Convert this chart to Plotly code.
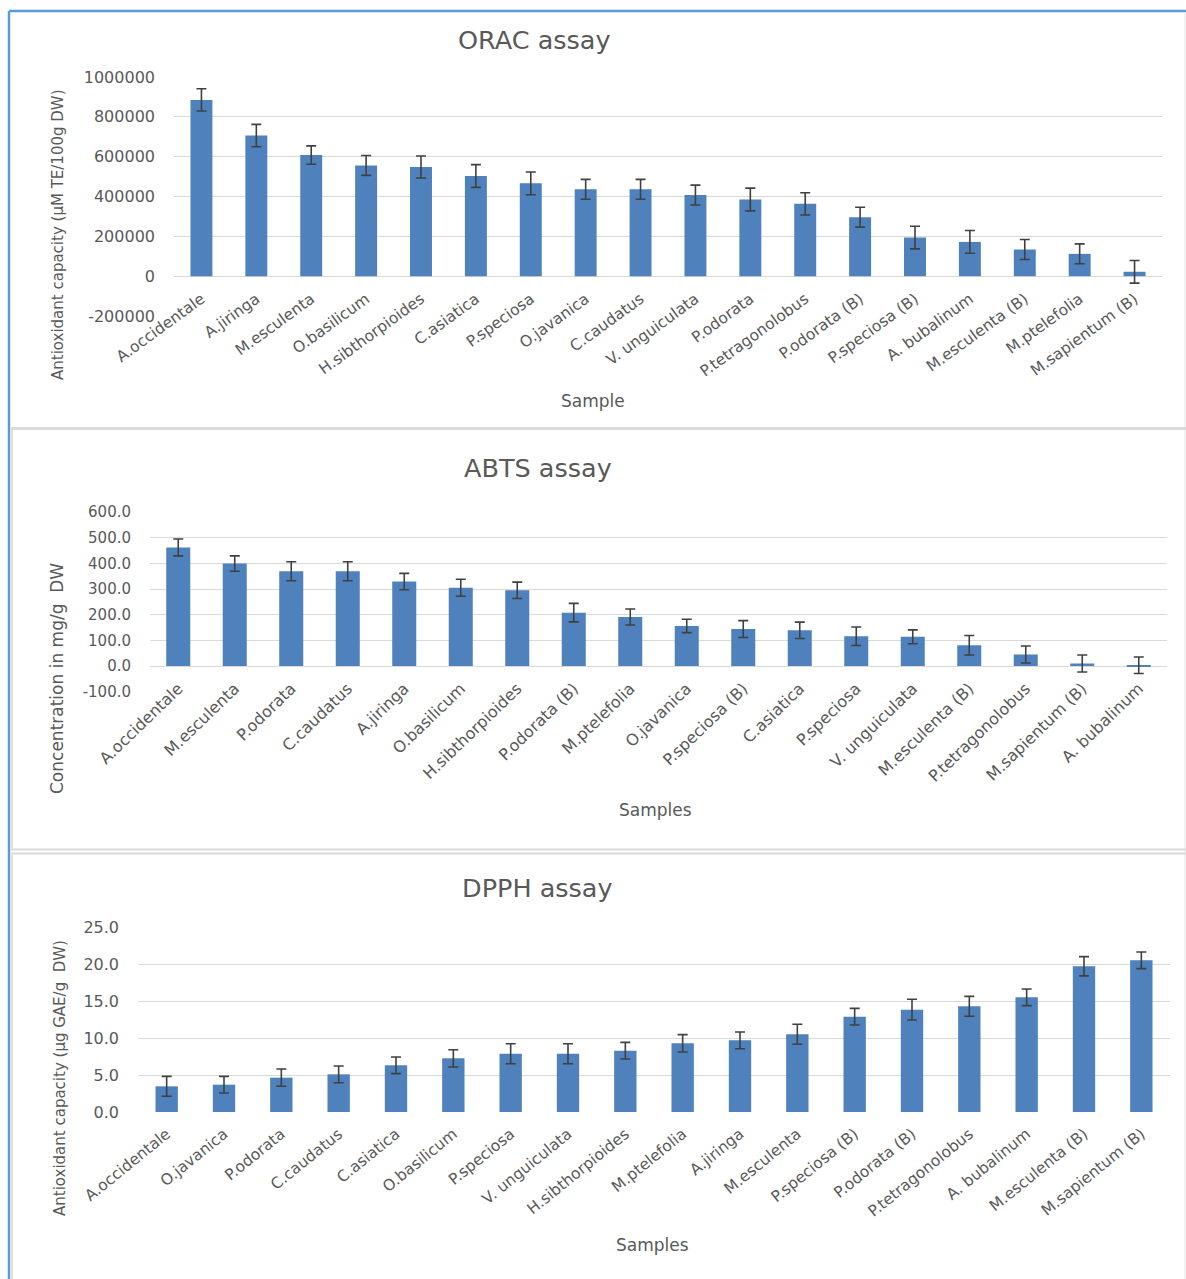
import plotly.graph_objects as go

W, H = 1186, 1279

# ---------------- DATA ----------------
ORAC_SAMPLES = ["A.occidentale", "A.jiringa", "M.esculenta", "O.basilicum", "H.sibthorpioides",
                "C.asiatica", "P.speciosa", "O.javanica", "C.caudatus", "V. unguiculata",
                "P.odorata", "P.tetragonolobus", "P.odorata (B)", "P.speciosa (B)", "A. bubalinum",
                "M.esculenta (B)", "M.ptelefolia", "M.sapientum (B)"]
ORAC_VALUES = [885000, 706000, 608000, 556000, 548000, 503000, 466000, 436000, 436000, 407000,
               385000, 363000, 296000, 194000, 172000, 134000, 112000, 22000]
ORAC_ERRORS = [56000, 56000, 46000, 50000, 55000, 57000, 57000, 50000, 50000, 50000,
               57000, 56000, 50000, 57000, 57000, 50000, 50000, 57000]
ORAC_TICKVALS = [-200000, 0, 200000, 400000, 600000, 800000, 1000000]
ORAC_TICKTEXT = ["-200000", "0", "200000", "400000", "600000", "800000", "1000000"]

ABTS_SAMPLES = ["A.occidentale", "M.esculenta", "P.odorata", "C.caudatus", "A.jiringa",
                "O.basilicum", "H.sibthorpioides", "P.odorata (B)", "M.ptelefolia", "O.javanica",
                "P.speciosa (B)", "C.asiatica", "P.speciosa", "V. unguiculata", "M.esculenta (B)",
                "P.tetragonolobus", "M.sapientum (B)", "A. bubalinum"]
ABTS_VALUES = [462, 399, 369, 369, 329, 305, 295, 208, 191, 156,
               144, 139, 116, 114, 81, 45, 10, 3]
ABTS_ERRORS = [33, 30, 37, 37, 32, 33, 32, 36, 31, 26,
               33, 32, 36, 27, 38, 33, 33, 32]
ABTS_TICKVALS = [-100, 0, 100, 200, 300, 400, 500, 600]
ABTS_TICKTEXT = ["-100.0", "0.0", "100.0", "200.0", "300.0", "400.0", "500.0", "600.0"]

DPPH_SAMPLES = ["A.occidentale", "O.javanica", "P.odorata", "C.caudatus", "C.asiatica",
                "O.basilicum", "P.speciosa", "V. unguiculata", "H.sibthorpioides", "M.ptelefolia",
                "A.jiringa", "M.esculenta", "P.speciosa (B)", "P.odorata (B)", "P.tetragonolobus",
                "A. bubalinum", "M.esculenta (B)", "M.sapientum (B)"]
DPPH_VALUES = [3.47, 3.69, 4.64, 5.09, 6.31, 7.25, 7.88, 7.88, 8.29, 9.28,
               9.68, 10.5, 12.88, 13.83, 14.28, 15.5, 19.69, 20.5]
DPPH_ERRORS = [1.35, 1.13, 1.17, 1.13, 1.12, 1.17, 1.35, 1.35, 1.12, 1.17,
               1.13, 1.35, 1.13, 1.4, 1.35, 1.12, 1.3, 1.12]
DPPH_TICKVALS = [0, 5, 10, 15, 20, 25]
DPPH_TICKTEXT = ["0.0", "5.0", "10.0", "15.0", "20.0", "25.0"]

# ---------------- STYLE ----------------
BAR = "#4f81bd"
ERR = "#404040"
TXT = "#595959"
GRID = "#d9d9d9"
FONT = "DejaVu Sans"


def px(x):
    return x / W


def py(y):
    return 1 - y / H


fig = go.Figure()

panels = [
    dict(s=ORAC_SAMPLES, v=ORAC_VALUES, e=ORAC_ERRORS, tv=ORAC_TICKVALS, tt=ORAC_TICKTEXT,
         rng=[-200000, 1000000], xd=[174, 1162], ytop=77, ybot=316, zero=277, gap=0.6,
         tfs=16, cfs=15.5, angle=-36),
    dict(s=ABTS_SAMPLES, v=ABTS_VALUES, e=ABTS_ERRORS, tv=ABTS_TICKVALS, tt=ABTS_TICKTEXT,
         rng=[-100, 600], xd=[150, 1167], ytop=512, ybot=691.7, zero=666, gap=0.575,
         tfs=15, cfs=16, angle=-44),
    dict(s=DPPH_SAMPLES, v=DPPH_VALUES, e=DPPH_ERRORS, tv=DPPH_TICKVALS, tt=DPPH_TICKTEXT,
         rng=[0, 25], xd=[138, 1170], ytop=927, ybot=1112, zero=1112, gap=0.61,
         tfs=16, cfs=15.5, angle=-39),
]

layout = {}
for i, p in enumerate(panels, start=1):
    sx = "" if i == 1 else str(i)
    fig.add_trace(go.Bar(
        x=p["s"], y=p["v"], marker=dict(color=BAR, line=dict(width=0)),
        error_y=dict(type="data", array=p["e"], color=ERR, thickness=1.6, width=5),
        xaxis="x" + sx, yaxis="y" + sx, width=1 - p["gap"], showlegend=False))
    layout["xaxis" + sx] = dict(
        domain=[px(p["xd"][0]), px(p["xd"][1])], anchor="free", position=py(p["zero"]),
        type="category", showgrid=False, showline=False, zeroline=False, automargin=False,
        ticks="outside", ticklen=6, tickcolor="rgba(0,0,0,0)",
        tickangle=p["angle"], tickfont=dict(family=FONT, size=p["cfs"], color=TXT))
    layout["yaxis" + sx] = dict(
        domain=[py(p["ybot"]), py(p["ytop"])], anchor="x" + sx, range=p["rng"],
        tickvals=p["tv"], ticktext=p["tt"], showgrid=True, gridcolor=GRID, gridwidth=1.3,
        zeroline=False, showline=False, ticks="", ticklabelstandoff=18, automargin=False,
        tickfont=dict(family=FONT, size=p["tfs"], color=TXT))

fig.update_layout(**layout)

ann = []
# Titles
ann.append(dict(text="ORAC assay", x=px(534), y=py(40), font=dict(size=25.5)))
ann.append(dict(text="ABTS assay", x=px(538), y=py(468), font=dict(size=25.5)))
ann.append(dict(text="DPPH assay", x=px(537), y=py(888), font=dict(size=25.5)))
# X titles
ann.append(dict(text="Sample", x=px(593), y=py(401), font=dict(size=17)))
ann.append(dict(text="Samples", x=px(655), y=py(810), font=dict(size=17)))
ann.append(dict(text="Samples", x=px(652), y=py(1245), font=dict(size=17)))
# Y titles
ann.append(dict(text="Antioxidant capacity (µM TE/100g DW)", x=px(58), y=py(235),
                textangle=-90, font=dict(size=15)))
ann.append(dict(text="Concentration in mg/g  DW", x=px(57), y=py(678),
                textangle=-90, font=dict(size=17)))
ann.append(dict(text="Antioxidant capacity (µg GAE/g  DW)", x=px(60), y=py(1078),
                textangle=-90, font=dict(size=15)))
for a in ann:
    a.update(xref="paper", yref="paper", showarrow=False, xanchor="center", yanchor="middle")
    a["font"].update(family=FONT, color=TXT)


def hline(y, x0, x1, color, width):
    return dict(type="line", xref="paper", yref="paper", x0=px(x0), x1=px(x1),
                y0=py(y), y1=py(y), line=dict(color=color, width=width))


def vline(x, y0, y1, color, width):
    return dict(type="line", xref="paper", yref="paper", x0=px(x), x1=px(x),
                y0=py(y0), y1=py(y1), line=dict(color=color, width=width))


shapes = [
    vline(9, 11, 1279, "#5b9bd5", 2.5),
    hline(11, 9, 1186, "#5b9bd5", 2.5),
    vline(1185, 12, 1279, "#e6e6e6", 1),
    hline(428.5, 11, 1186, "#dadada", 3),
    hline(849.5, 11, 1186, "#dadada", 2),
    hline(853.5, 11, 1186, "#dadada", 2),
    vline(12, 430, 849, "#dedede", 2),
    vline(12, 855, 1279, "#dedede", 2),
]

fig.update_layout(
    width=W, height=H, margin=dict(l=0, r=0, t=0, b=0, autoexpand=False),
    paper_bgcolor="white", plot_bgcolor="rgba(0,0,0,0)",
    annotations=ann, shapes=shapes,
    font=dict(family=FONT, color=TXT),
)

fig.write_html("out.html")
